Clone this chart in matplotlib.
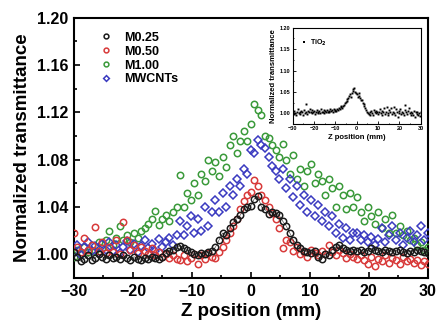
import matplotlib
matplotlib.use("Agg")
import matplotlib.pyplot as plt
from matplotlib.ticker import MultipleLocator, FormatStrFormatter

# ---------------- data ----------------
z_pos = [-30.0, -29.4, -28.8, -28.2, -27.6, -27.0, -26.4, -25.8, -25.2, -24.6,
         -24.0, -23.4, -22.8, -22.2, -21.6, -21.0, -20.4, -19.8, -19.2, -18.6,
         -18.0, -17.4, -16.8, -16.2, -15.6, -15.0, -14.4, -13.8, -13.2, -12.6,
         -12.0, -11.4, -10.8, -10.2, -9.6, -9.0, -8.4, -7.8, -7.2, -6.6,
         -6.0, -5.4, -4.8, -4.2, -3.6, -3.0, -2.4, -1.8, -1.2, -0.6,
         0.0, 0.6, 1.2, 1.8, 2.4, 3.0, 3.6, 4.2, 4.8, 5.4,
         6.0, 6.6, 7.2, 7.8, 8.4, 9.0, 9.6, 10.2, 10.8, 11.4,
         12.0, 12.6, 13.2, 13.8, 14.4, 15.0, 15.6, 16.2, 16.8, 17.4,
         18.0, 18.6, 19.2, 19.8, 20.4, 21.0, 21.6, 22.2, 22.8, 23.4,
         24.0, 24.6, 25.2, 25.8, 26.4, 27.0, 27.6, 28.2, 28.8, 29.4, 30.0]

m025 = [1.002, 0.998, 0.994, 0.996, 0.999, 0.995, 0.997, 1.000, 0.998, 0.996,
        0.999, 0.997, 0.998, 0.996, 0.999, 0.997, 0.995, 0.998, 0.996, 0.995,
        0.997, 0.996, 0.998, 0.997, 0.996, 0.998, 1.001, 1.003, 1.004, 1.006,
        1.007, 1.005, 1.004, 1.002, 1.000, 0.999, 1.001, 1.000, 1.002, 1.003,
        1.006, 1.012, 1.018, 1.016, 1.022, 1.027, 1.030, 1.033, 1.038, 1.040,
        1.041, 1.047, 1.049, 1.040, 1.038, 1.034, 1.036, 1.035, 1.033, 1.028,
        1.024, 1.018, 1.012, 1.008, 1.005, 1.003, 1.002, 1.001, 1.003, 0.998,
        0.996, 1.000, 0.999, 1.004, 1.006, 1.008, 1.005, 1.004, 1.003, 1.004,
        1.003, 1.004, 1.002, 1.003, 1.005, 1.004, 1.003, 1.002, 1.004, 1.003,
        1.002, 1.003, 1.004, 1.002, 1.001, 1.003, 1.002, 1.004, 1.003, 1.002, 1.001]

m050 = [1.018, 1.006, 1.002, 1.014, 1.004, 1.008, 1.023, 1.003, 1.010, 1.001,
        1.006, 1.002, 1.012, 1.000, 1.027, 1.012, 1.004, 1.008, 1.001, 1.006,
        1.003, 1.000, 1.005, 0.999, 1.002, 0.998, 1.000, 0.997, 0.999, 0.996,
        0.995, 0.999, 0.994, 0.997, 1.000, 0.992, 0.999, 0.996, 1.001, 0.998,
        0.997, 1.002, 1.006, 1.012, 1.018, 1.024, 1.030, 1.038, 1.045, 1.050,
        1.053, 1.063, 1.058, 1.050, 1.046, 1.040, 1.035, 1.030, 1.022, 1.005,
        1.012, 1.010, 1.003, 1.006, 1.000, 1.002, 0.998, 1.004, 1.001, 0.999,
        1.003, 1.000, 1.008, 1.002, 0.999, 1.004, 1.001, 0.997, 1.000, 0.998,
        0.996, 0.999, 0.995, 0.992, 0.998, 0.990, 0.996, 0.994, 0.999, 0.993,
        0.997, 0.995, 0.992, 0.998, 0.994, 0.996, 0.993, 0.995, 0.991, 0.994, 0.992]

m100 = [0.998, 1.004, 1.000, 1.006, 1.002, 1.008, 1.003, 1.010, 1.005, 1.012,
        1.020, 1.008, 1.014, 1.024, 1.012, 1.016, 1.010, 1.018, 1.014, 1.020,
        1.022, 1.026, 1.030, 1.037, 1.025, 1.030, 1.033, 1.028, 1.036, 1.040,
        1.067, 1.040, 1.052, 1.046, 1.060, 1.050, 1.068, 1.062, 1.080, 1.070,
        1.078, 1.066, 1.082, 1.074, 1.092, 1.100, 1.086, 1.096, 1.104, 1.096,
        1.110, 1.127, 1.122, 1.118, 1.100, 1.098, 1.092, 1.088, 1.082, 1.093,
        1.080, 1.068, 1.084, 1.064, 1.072, 1.058, 1.070, 1.076, 1.060, 1.068,
        1.062, 1.050, 1.064, 1.056, 1.040, 1.058, 1.050, 1.038, 1.052, 1.040,
        1.048, 1.036, 1.028, 1.040, 1.032, 1.026, 1.036, 1.022, 1.030, 1.018,
        1.033, 1.018, 1.024, 1.016, 1.020, 1.012, 1.014, 1.008, 1.010, 1.004, 1.006]

mwcnt = [1.002, 1.008, 0.999, 1.006, 1.010, 1.003, 1.007, 1.001, 1.009, 1.004,
         1.010, 1.003, 1.008, 1.001, 1.006, 1.011, 1.004, 1.009, 1.002, 1.007,
         1.012, 1.005, 1.009, 1.003, 1.013, 1.006, 1.010, 1.014, 1.008, 1.016,
         1.028, 1.016, 1.024, 1.032, 1.018, 1.030, 1.020, 1.040, 1.024, 1.036,
         1.046, 1.036, 1.052, 1.040, 1.058, 1.050, 1.064, 1.058, 1.072, 1.068,
         1.088, 1.086, 1.097, 1.092, 1.090, 1.082, 1.075, 1.070, 1.064, 1.072,
         1.056, 1.064, 1.048, 1.058, 1.042, 1.050, 1.036, 1.046, 1.032, 1.042,
         1.028, 1.036, 1.024, 1.032, 1.018, 1.026, 1.014, 1.022, 1.012, 1.018,
         1.018, 1.012, 1.016, 1.010, 1.015, 1.008, 1.013, 1.022, 1.010, 1.016,
         1.024, 1.012, 1.018, 1.008, 1.014, 1.020, 1.010, 1.016, 1.024, 1.012, 1.018]

z_inset = [-30.0, -29.6, -29.2, -28.8, -28.4, -28.0, -27.6, -27.2, -26.8, -26.4,
           -26.0, -25.6, -25.2, -24.8, -24.4, -24.0, -23.6, -23.2, -22.8, -22.4,
           -22.0, -21.6, -21.2, -20.8, -20.4, -20.0, -19.6, -19.2, -18.8, -18.4,
           -18.0, -17.6, -17.2, -16.8, -16.4, -16.0, -15.6, -15.2, -14.8, -14.4,
           -14.0, -13.6, -13.2, -12.8, -12.4, -12.0, -11.6, -11.2, -10.8, -10.4,
           -10.0, -9.6, -9.2, -8.8, -8.4, -8.0, -7.6, -7.2, -6.8, -6.4,
           -6.0, -5.6, -5.2, -4.8, -4.4, -4.0, -3.6, -3.2, -2.8, -2.4,
           -2.0, -1.6, -1.2, -0.8, -0.4, 0.0, 0.4, 0.8, 1.2, 1.6,
           2.0, 2.4, 2.8, 3.2, 3.6, 4.0, 4.4, 4.8, 5.2, 5.6,
           6.0, 6.4, 6.8, 7.2, 7.6, 8.0, 8.4, 8.8, 9.2, 9.6,
           10.0, 10.4, 10.8, 11.2, 11.6, 12.0, 12.4, 12.8, 13.2, 13.6,
           14.0, 14.4, 14.8, 15.2, 15.6, 16.0, 16.4, 16.8, 17.2, 17.6,
           18.0, 18.4, 18.8, 19.2, 19.6, 20.0, 20.4, 20.8, 21.2, 21.6,
           22.0, 22.4, 22.8, 23.2, 23.6, 24.0, 24.4, 24.8, 25.2, 25.6,
           26.0, 26.4, 26.8, 27.2, 27.6, 28.0, 28.4, 28.8, 29.2, 29.6, 30.0]

tio2 = [1.003, 0.998, 1.006, 1.001, 0.997, 1.004, 1.009, 1.000, 1.003, 0.999,
        1.005, 1.002, 0.997, 1.008, 1.001, 1.021, 1.004, 0.999, 1.006, 1.002,
        1.009, 1.003, 1.000, 1.007, 1.002, 1.005, 0.998, 1.004, 1.008, 1.001,
        1.003, 1.006, 1.000, 1.010, 1.004, 1.002, 1.007, 1.001, 1.005, 1.003,
        1.008, 1.004, 1.006, 1.002, 1.009, 1.005, 1.007, 1.003, 1.010, 1.006,
        1.008, 1.005, 1.011, 1.008, 1.012, 1.010, 1.014, 1.016, 1.013, 1.018,
        1.020, 1.023, 1.026, 1.033, 1.028, 1.036, 1.040, 1.044, 1.038, 1.048,
        1.052, 1.056, 1.058, 1.050, 1.047, 1.044, 1.038, 1.048, 1.040, 1.036,
        1.032, 1.030, 1.025, 1.022, 1.017, 1.012, 1.008, 1.004, 1.000, 0.998,
        1.002, 0.997, 1.005, 1.001, 0.996, 1.008, 1.003, 1.000, 1.006, 1.002,
        0.998, 1.004, 1.010, 1.001, 0.997, 1.006, 1.002, 1.012, 0.999, 1.004,
        1.015, 1.001, 0.996, 1.008, 1.002, 1.012, 0.998, 1.004, 1.014, 1.000,
        0.997, 1.009, 1.003, 0.992, 1.006, 1.001, 1.010, 0.998, 1.004, 1.000,
        0.995, 1.007, 1.020, 1.002, 0.998, 1.005, 1.012, 1.000, 0.996, 1.004,
        1.001, 0.997, 1.006, 0.992, 1.002, 0.999, 1.004, 0.996, 1.000, 0.994, 1.002]

series_labels = ["M0.25", "M0.50", "M1.00", "MWCNTs"]
x_ticks = [-30, -20, -10, 0, 10, 20, 30]
y_ticks = [1.00, 1.04, 1.08, 1.12, 1.16, 1.20]
inset_y_ticks = [1.00, 1.05, 1.10, 1.15, 1.20]

# ---------------- style ----------------
plt.rcParams['font.family'] = ['Liberation Sans', 'DejaVu Sans']
plt.rcParams['font.weight'] = 'bold'
plt.rcParams['mathtext.default'] = 'bf'

fig = plt.figure(figsize=(4.37, 3.27), dpi=100)
ax = fig.add_axes([0.169, 0.150, 0.810, 0.796])

c_black = '#1a1a1a'
c_red = '#d83a3a'
c_green = '#3a9a3a'
c_blue = '#3a3ac0'
ms = 4.6
mew = 1.1

ax.plot(z_pos, m025, color=c_black, lw=0.35, zorder=5)
ax.plot(z_pos, m025, ls='none', marker='o', ms=ms, mfc='none', mec=c_black, mew=mew,
        label=series_labels[0], zorder=6)
ax.plot(z_pos, m050, ls='none', marker='o', ms=ms, mfc='none', mec=c_red, mew=mew,
        label=series_labels[1], zorder=4)
ax.plot(z_pos, m100, ls='none', marker='o', ms=ms, mfc='none', mec=c_green, mew=mew,
        label=series_labels[2], zorder=3)
ax.plot(z_pos, mwcnt, ls='none', marker='D', ms=ms * 0.85, mfc='none', mec=c_blue, mew=mew,
        label=series_labels[3], zorder=3)

ax.set_xlim(-30, 30)
ax.set_ylim(0.98, 1.20)
ax.set_xticks(x_ticks)
ax.set_yticks(y_ticks)
ax.yaxis.set_major_formatter(FormatStrFormatter('%.2f'))
ax.xaxis.set_minor_locator(MultipleLocator(5))
ax.yaxis.set_minor_locator(MultipleLocator(0.02))
ax.tick_params(which='both', direction='in', top=False, right=False, width=1.2)
ax.tick_params(which='major', length=4.5, labelsize=11.5, pad=4)
ax.tick_params(which='minor', length=2.5)
for lab in ax.get_xticklabels() + ax.get_yticklabels():
    lab.set_fontweight('bold')
for sp in ax.spines.values():
    sp.set_linewidth(1.5)

ax.set_xlabel('Z position (mm)', fontsize=13.5, fontweight='bold', labelpad=3)
ax.set_ylabel('Normalized transmittance', fontsize=13.5, fontweight='bold', labelpad=4)

leg = ax.legend(loc='upper left', bbox_to_anchor=(0.06, 0.965), frameon=False,
                prop={'size': 9, 'weight': 'bold'}, handlelength=1.0,
                handletextpad=0.9, labelspacing=0.15, markerscale=0.75, borderaxespad=0)

# ---------------- inset ----------------
axi = fig.add_axes([0.670, 0.621, 0.293, 0.294])
axi.plot(z_inset, tio2, ls='none', marker='s', ms=1.4, color='black', mew=0, label='TiO$_2$')
axi.set_xlim(-30, 30)
axi.set_ylim(0.975, 1.20)
axi.set_xticks(x_ticks)
axi.set_yticks(inset_y_ticks)
axi.yaxis.set_major_formatter(FormatStrFormatter('%.2f'))
axi.xaxis.set_minor_locator(MultipleLocator(5))
axi.yaxis.set_minor_locator(MultipleLocator(0.025))
axi.tick_params(which='both', direction='in', top=False, right=False, width=0.6)
axi.tick_params(which='major', length=2, labelsize=4, pad=1.5)
axi.tick_params(which='minor', length=1)
for sp in axi.spines.values():
    sp.set_linewidth(0.8)
axi.set_xlabel('Z position (mm)', fontsize=5.5, fontweight='bold', labelpad=2)
axi.set_ylabel('Normalized transmittance', fontsize=5.5, fontweight='bold', labelpad=2)
axi.legend(loc='upper left', bbox_to_anchor=(0.05, 0.93), frameon=False,
           prop={'size': 5, 'weight': 'bold'}, handlelength=0.6, handletextpad=0.6,
           markerscale=1.2, borderaxespad=0)

fig.savefig('out.png', dpi=100)
